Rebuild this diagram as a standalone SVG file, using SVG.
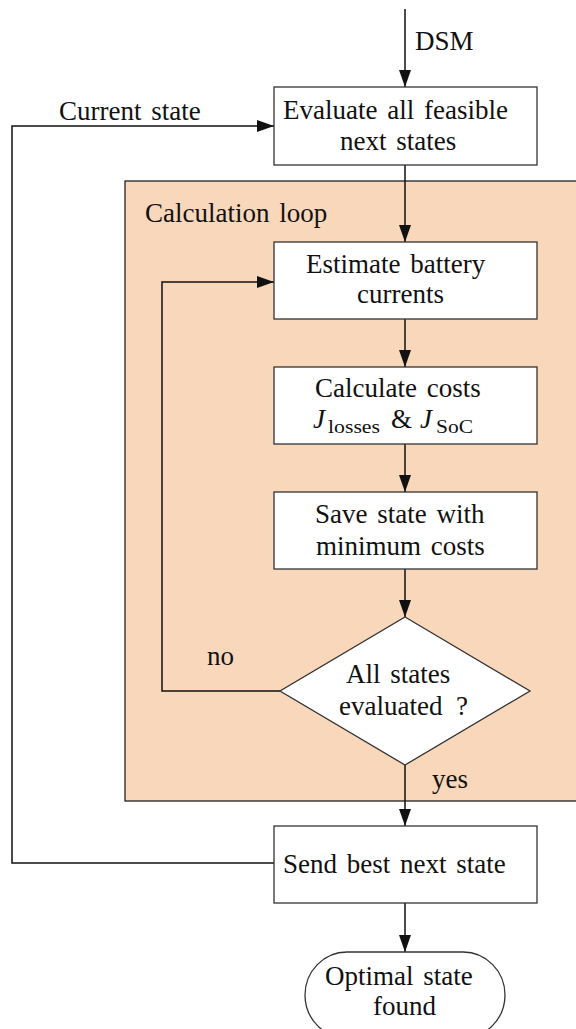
<svg xmlns="http://www.w3.org/2000/svg" width="576" height="1029" viewBox="0 0 576 1029">
<style>
  text { font-family: "Liberation Serif", "Times New Roman", serif; font-size: 27px; fill: #111; word-spacing: 3px; }
  .box { fill: #ffffff; stroke: #333; stroke-width: 1.3; }
  .conn { fill: none; stroke: #111; stroke-width: 1.5; }
  .sub { font-size: 19px; }
  .it { font-style: italic; }
</style>
<defs>
  <marker id="arr" markerUnits="userSpaceOnUse" markerWidth="17" markerHeight="12" refX="17" refY="6" orient="auto">
    <path d="M0,0 L17,6 L0,12 z" fill="#111"/>
  </marker>
</defs>
<rect width="576" height="1029" fill="#ffffff"/>

<g id="loop">
  <rect x="125" y="181" width="460" height="620" fill="#f9d7bb" stroke="#222" stroke-width="1.3"/>
  <text x="145" y="222">Calculation loop</text>
</g>

<g id="connectors">
  <line class="conn" x1="405" y1="9" x2="405" y2="87" marker-end="url(#arr)"/>
  <polyline class="conn" points="274,863 12,863 12,126 274,126" marker-end="url(#arr)"/>
  <line class="conn" x1="405" y1="165" x2="405" y2="242" marker-end="url(#arr)"/>
  <line class="conn" x1="405" y1="319" x2="405" y2="367" marker-end="url(#arr)"/>
  <line class="conn" x1="405" y1="444" x2="405" y2="492" marker-end="url(#arr)"/>
  <line class="conn" x1="405" y1="569" x2="405" y2="617" marker-end="url(#arr)"/>
  <polyline class="conn" points="280,691 162,691 162,282 274,282" marker-end="url(#arr)"/>
  <line class="conn" x1="405" y1="765" x2="405" y2="826" marker-end="url(#arr)"/>
  <line class="conn" x1="405" y1="903" x2="405" y2="952" marker-end="url(#arr)"/>
  <text x="415" y="50">DSM</text>
  <text x="59" y="120">Current state</text>
  <text x="207" y="665">no</text>
  <text x="432" y="788">yes</text>
</g>

<g id="evaluate">
  <rect class="box" x="274" y="87" width="263" height="78"/>
  <text x="283" y="119">Evaluate all feasible</text>
  <text x="340" y="150">next states</text>
</g>

<g id="estimate">
  <rect class="box" x="274" y="242" width="263" height="77"/>
  <text x="306" y="273">Estimate battery</text>
  <text x="357" y="303">currents</text>
</g>

<g id="calculate">
  <rect class="box" x="274" y="367" width="263" height="77"/>
  <text x="315" y="397">Calculate costs</text>
  <text x="313" y="428"><tspan class="it">J</tspan><tspan class="sub" x="328" y="433" textLength="52" lengthAdjust="spacingAndGlyphs">losses</tspan><tspan x="391" y="428">&amp;</tspan><tspan class="it" x="420" y="428">J</tspan><tspan class="sub" x="436" y="433" textLength="37" lengthAdjust="spacingAndGlyphs">SoC</tspan></text>
</g>

<g id="save">
  <rect class="box" x="274" y="492" width="263" height="77"/>
  <text x="315" y="523">Save state with</text>
  <text x="316" y="555">minimum costs</text>
</g>

<g id="decision">
  <polygon class="box" points="405,617 530,691 405,765 280,691"/>
  <text x="346" y="683">All states</text>
  <text x="339" y="715">evaluated<tspan x="456">?</tspan></text>
</g>

<g id="send">
  <rect class="box" x="274" y="826" width="263" height="77"/>
  <text x="283" y="873">Send best next state</text>
</g>

<g id="terminal">
  <rect class="box" x="305" y="952" width="200" height="86" rx="42" ry="43"/>
  <text x="325" y="985">Optimal state</text>
  <text x="373" y="1015">found</text>
</g>
</svg>
